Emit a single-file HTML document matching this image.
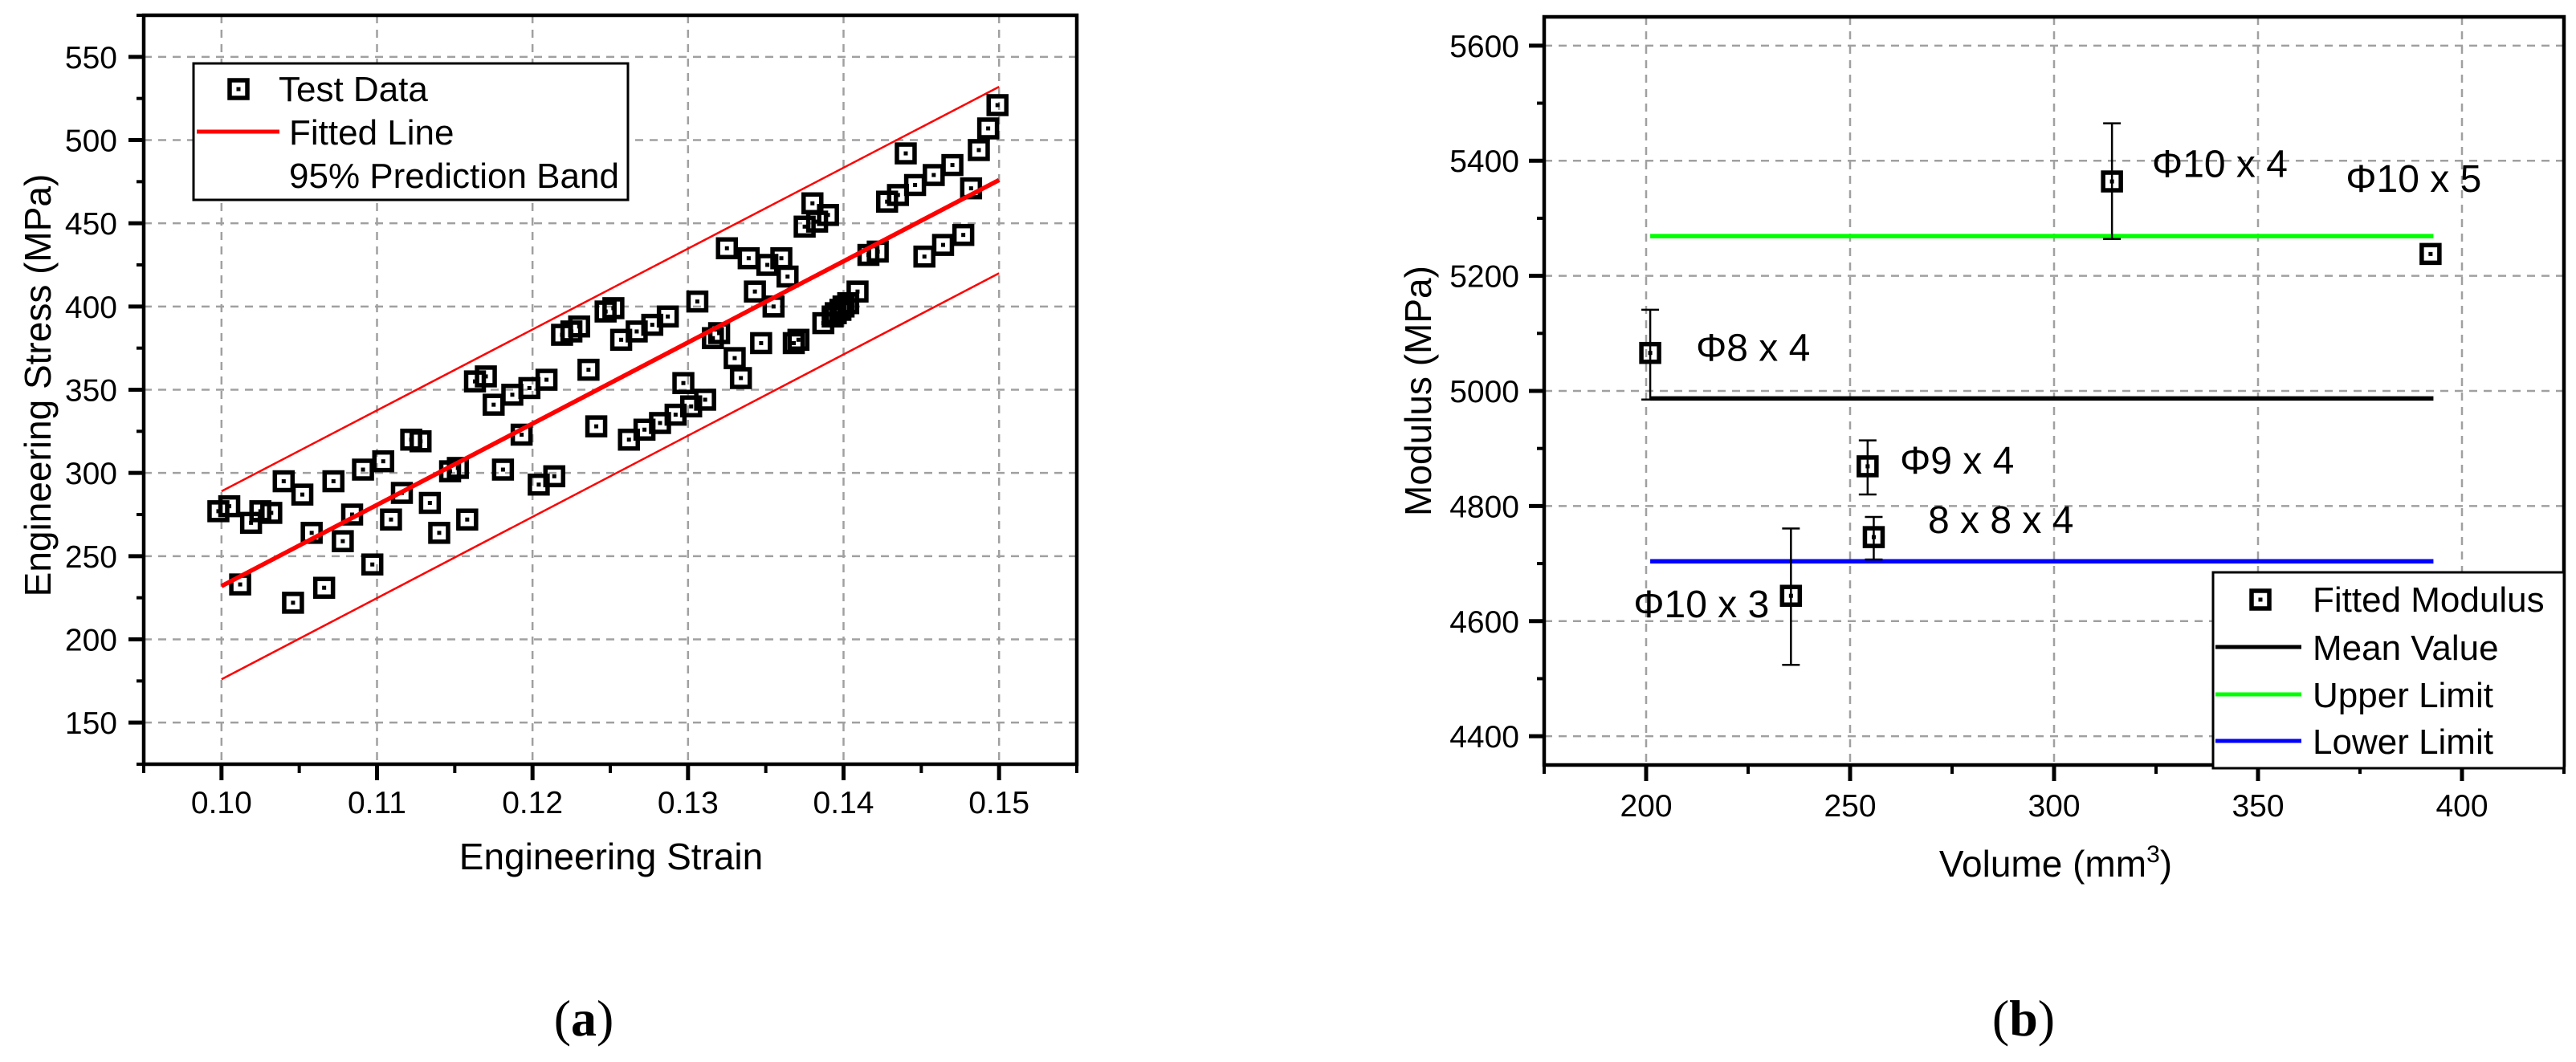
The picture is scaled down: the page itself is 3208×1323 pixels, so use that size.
<!DOCTYPE html>
<html><head><meta charset="utf-8">
<style>
html,body{margin:0;padding:0;background:#fff;}
svg{display:block;font-family:"Liberation Sans",sans-serif;}
</style></head>
<body>
<svg id="chart" width="3208" height="1323" viewBox="0 0 3208 1323" xmlns="http://www.w3.org/2000/svg">
<rect x="0" y="0" width="3208" height="1323" fill="#fff"/>
</svg>
<script>
// ---------- Chart (a) data ----------
const strainA = [0.0998,0.1005,0.1012,0.1019,0.1025,0.1032,0.104,0.1046,0.1052,0.1058,0.1066,0.1072,0.1078,0.1084,0.1091,0.1097,0.1104,0.1109,0.1116,0.1122,0.1128,0.1134,0.114,0.1147,0.1152,0.1158,0.1163,0.117,0.1175,0.1181,0.1187,0.1193,0.1198,0.1204,0.1209,0.1214,0.1219,0.1225,0.123,0.1236,0.1241,0.1247,0.1252,0.1257,0.1262,0.1267,0.1272,0.1277,0.1282,0.1287,0.1292,0.1297,0.1302,0.1306,0.1311,0.1316,0.132,0.1325,0.133,0.1334,0.1339,0.1343,0.1347,0.1351,0.1355,0.136,0.1364,0.1368,0.1371,0.1375,0.138,0.1383,0.1387,0.139,0.1393,0.1395,0.1398,0.14,0.1403,0.1409,0.1416,0.1422,0.1428,0.1435,0.144,0.1446,0.1452,0.1458,0.1464,0.147,0.1477,0.1482,0.1487,0.1493,0.1499];
const stressA = [277,280,233,270,277,276,295,222,287,264,231,295,259,275,302,245,307,272,288,320,319,282,264,301,303,272,355,358,341,302,347,323,351,293,356,298,383,385,388,362,328,397,399,380,320,385,326,389,330,394,335,354,340,403,344,381,384,435,369,357,429,409,378,425,400,429,418,378,380,448,462,451,390,455,394,396,398,400,402,409,431,433,463,467,492,473,430,479,437,485,443,471,494,507,521];
const fitX = [0.10,0.15];
const fitY = [232,476];
const upperBandY = [289,532];
const lowerBandY = [176,420];
const xTicksA = [0.10,0.11,0.12,0.13,0.14,0.15];
const xTickLabelsA = ["0.10","0.11","0.12","0.13","0.14","0.15"];
const yTicksA = [150,200,250,300,350,400,450,500,550];

// ---------- Chart (b) data ----------
const volumeB = [201,235.5,254.3,255.8,314.2,392.3];
const modulusB = [5066,4644,4869,4746,5364,5238];
const errTopB = [5141,4761,4914,4781,5465,5238];
const errBotB = [4985,4524,4820,4707,5264,5238];
const specimenLabels = ["Φ8 x 4","Φ10 x 3","Φ9 x 4","8 x 8 x 4","Φ10 x 4","Φ10 x 5"];
const labelVol = [212.2,196.9,262.2,269.1,324,371.5];
const labelMod = [5052,4607,4856,4753,5372,5346];
const refX = [201,393];
const meanValue = [4987];
const upperLimit = [5269];
const lowerLimit = [4704];
const xTicksB = [200,250,300,350,400];
const yTicksB = [4400,4600,4800,5000,5200,5400,5600];

const NS="http://www.w3.org/2000/svg";
const svg=document.getElementById('chart');
function mk(tag,attrs,parent){const e=document.createElementNS(NS,tag);for(const k in attrs)e.setAttribute(k,attrs[k]);(parent||svg).appendChild(e);return e;}

const A={l:179,r:1341,t:19,b:952,x0:0.095,x1:0.155,y0:125,y1:575};
const xa=v=>A.l+(v-A.x0)/(A.x1-A.x0)*(A.r-A.l);
const ya=v=>A.b-(v-A.y0)/(A.y1-A.y0)*(A.b-A.t);
const B={l:1923,r:3193,t:21,b:953,x0:175,x1:425,y0:4350,y1:5650};
const xb=v=>B.l+(v-B.x0)/(B.x1-B.x0)*(B.r-B.l);
const yb=v=>B.b-(v-B.y0)/(B.y1-B.y0)*(B.b-B.t);

const gA=mk('g',{});


const gB=mk('g',{});



xTicksA.forEach(v=>{const l=mk('line',{x1:xa(v),x2:xa(v),y1:A.t,y2:A.b,stroke:'#a0a0a0','stroke-width':2.5,'stroke-dasharray':'10 8'},gA);

});
yTicksA.forEach(v=>{const l=mk('line',{x1:A.l,x2:A.r,y1:ya(v),y2:ya(v),stroke:'#a0a0a0','stroke-width':2.5,'stroke-dasharray':'10 8'},gA);

});
xTicksB.forEach(v=>{const l=mk('line',{x1:xb(v),x2:xb(v),y1:B.t,y2:B.b,stroke:'#a0a0a0','stroke-width':2.5,'stroke-dasharray':'10 8'},gB);

});
yTicksB.forEach(v=>{const l=mk('line',{x1:B.l,x2:B.r,y1:yb(v),y2:yb(v),stroke:'#a0a0a0','stroke-width':2.5,'stroke-dasharray':'10 8'},gB);

});

function marker(g,cx,cy,name){
  const s=mk('g',{},g);
  
  
  mk('rect',{x:cx-11,y:cy-11,width:22,height:22,fill:'none',stroke:'#000','stroke-width':5.5},s);
  mk('rect',{x:cx-2.5,y:cy-2.5,width:5,height:5,fill:'#000'},s);
}

const ub=mk('line',{x1:xa(fitX[0]),y1:ya(upperBandY[0]),x2:xa(fitX[1]),y2:ya(upperBandY[1]),stroke:'#ff0000','stroke-width':2.5},gA);


const lb=mk('line',{x1:xa(fitX[0]),y1:ya(lowerBandY[0]),x2:xa(fitX[1]),y2:ya(lowerBandY[1]),stroke:'#ff0000','stroke-width':2.5},gA);


strainA.forEach((v,i)=>marker(gA,xa(v),ya(stressA[i]),'test-data-point'));
const fl=mk('line',{x1:xa(fitX[0]),y1:ya(fitY[0]),x2:xa(fitX[1]),y2:ya(fitY[1]),stroke:'#ff0000','stroke-width':5.5},gA);



const fa=mk('rect',{x:A.l,y:A.t,width:A.r-A.l,height:A.b-A.t,fill:'none',stroke:'#000','stroke-width':4.5},gA);


for(let v=0.095;v<=0.1551;v+=0.005){const major=Math.abs(Math.round(v*100)-v*100)<1e-6;
  mk('line',{x1:xa(v),x2:xa(v),y1:A.b,y2:A.b+(major?20:11),stroke:'#000','stroke-width':major?5:4},gA);}
for(let v=125;v<=575;v+=25){const major=v%50===0;
  mk('line',{x1:A.l,x2:A.l-(major?19:9),y1:ya(v),y2:ya(v),stroke:'#000','stroke-width':major?5:4},gA);}
xTicksA.forEach((v,i)=>{const t=mk('text',{x:xa(v),y:1013,'font-size':39,'text-anchor':'middle'},gA);t.textContent=xTickLabelsA[i];

});
yTicksA.forEach(v=>{const t=mk('text',{x:146,y:ya(v)+14,'font-size':39,'text-anchor':'end'},gA);t.textContent=v;

});
const xtA=mk('text',{x:761,y:1083,'font-size':46,'text-anchor':'middle'},gA);xtA.textContent='Engineering Strain';


const ytA=mk('text',{x:0,y:0,'font-size':46,'text-anchor':'middle',transform:'translate(63,480) rotate(-90)'},gA);ytA.textContent='Engineering Stress (MPa)';


const lgA=mk('g',{},gA);


mk('rect',{x:241,y:79,width:541,height:170,fill:'#fff',stroke:'#000','stroke-width':3},lgA);
marker(lgA,297,111,'legend-marker-test-data');
let t=mk('text',{x:347,y:126,'font-size':44},lgA);t.textContent='Test Data';


mk('line',{x1:245,x2:348,y1:164,y2:164,stroke:'#ff0000','stroke-width':5},lgA);
t=mk('text',{x:360,y:180,'font-size':44},lgA);t.textContent='Fitted Line';


t=mk('text',{x:360,y:234,'font-size':44},lgA);t.textContent='95% Prediction Band';


const capA=mk('text',{x:727,y:1290,'font-size':64,'font-family':'Liberation Serif, serif','text-anchor':'middle'},gA);
capA.innerHTML='(<tspan font-weight="bold">a</tspan>)';



function hline(val,color,name){const l=mk('line',{x1:xb(refX[0]),x2:xb(refX[1]),y1:yb(val),y2:yb(val),stroke:color,'stroke-width':5.5},gB);

}
hline(upperLimit[0],'#00ff00','upper-limit-line');
hline(meanValue[0],'#000000','mean-value-line');
hline(lowerLimit[0],'#0000ff','lower-limit-line');
volumeB.forEach((v,i)=>{
  const x=xb(v);
  if(errTopB[i]!==errBotB[i]){
    const e=mk('g',{},gB);
    
    
    mk('line',{x1:x,x2:x,y1:yb(errTopB[i]),y2:yb(errBotB[i]),stroke:'#000','stroke-width':2.5},e);
    mk('line',{x1:x-11,x2:x+11,y1:yb(errTopB[i]),y2:yb(errTopB[i]),stroke:'#000','stroke-width':2.5},e);
    mk('line',{x1:x-11,x2:x+11,y1:yb(errBotB[i]),y2:yb(errBotB[i]),stroke:'#000','stroke-width':2.5},e);
  }
  marker(gB,x,yb(modulusB[i]),'fitted-modulus-point');
});
specimenLabels.forEach((s,i)=>{const tt=mk('text',{x:xb(labelVol[i]),y:yb(labelMod[i]),'font-size':48},gB);tt.textContent=s;

});
const fb=mk('rect',{x:B.l,y:B.t,width:B.r-B.l,height:B.b-B.t,fill:'none',stroke:'#000','stroke-width':4.5},gB);


for(let v=175;v<=425;v+=25){const major=v%50===0;
  mk('line',{x1:xb(v),x2:xb(v),y1:B.b,y2:B.b+(major?20:11),stroke:'#000','stroke-width':major?5:4},gB);}
for(let v=4400;v<=5600;v+=100){const major=v%200===0;
  mk('line',{x1:B.l,x2:B.l-(major?19:9),y1:yb(v),y2:yb(v),stroke:'#000','stroke-width':major?5:4},gB);}
xTicksB.forEach(v=>{const tt=mk('text',{x:xb(v),y:1017,'font-size':39,'text-anchor':'middle'},gB);tt.textContent=v;

});
yTicksB.forEach(v=>{const tt=mk('text',{x:1892,y:yb(v)+14,'font-size':39,'text-anchor':'end'},gB);tt.textContent=v;

});
const xtB=mk('text',{x:2560,y:1092,'font-size':46,'text-anchor':'middle'},gB);
xtB.innerHTML='Volume (mm<tspan dy="-18" font-size="30">3</tspan><tspan dy="18">)</tspan>';


const ytB=mk('text',{x:0,y:0,'font-size':46,'text-anchor':'middle',transform:'translate(1782,487) rotate(-90)'},gB);ytB.textContent='Modulus (MPa)';


const lgB=mk('g',{},gB);


mk('rect',{x:2756,y:713,width:437,height:244,fill:'#fff',stroke:'#000','stroke-width':3},lgB);
marker(lgB,2815,747,'legend-marker-fitted-modulus');
const lgItems=[['Fitted Modulus',762,null],['Mean Value',822,'#000000'],['Upper Limit',881,'#00ff00'],['Lower Limit',939,'#0000ff']];
lgItems.forEach(it=>{
  if(it[2]) mk('line',{x1:2759,x2:2866,y1:it[1]-16,y2:it[1]-16,stroke:it[2],'stroke-width':5},lgB);
  const tt=mk('text',{x:2880,y:it[1],'font-size':44},lgB);tt.textContent=it[0];
  
  
});
const capB=mk('text',{x:2520,y:1290,'font-size':64,'font-family':'Liberation Serif, serif','text-anchor':'middle'},gB);
capB.innerHTML='(<tspan font-weight="bold">b</tspan>)';


</script>
</body></html>
